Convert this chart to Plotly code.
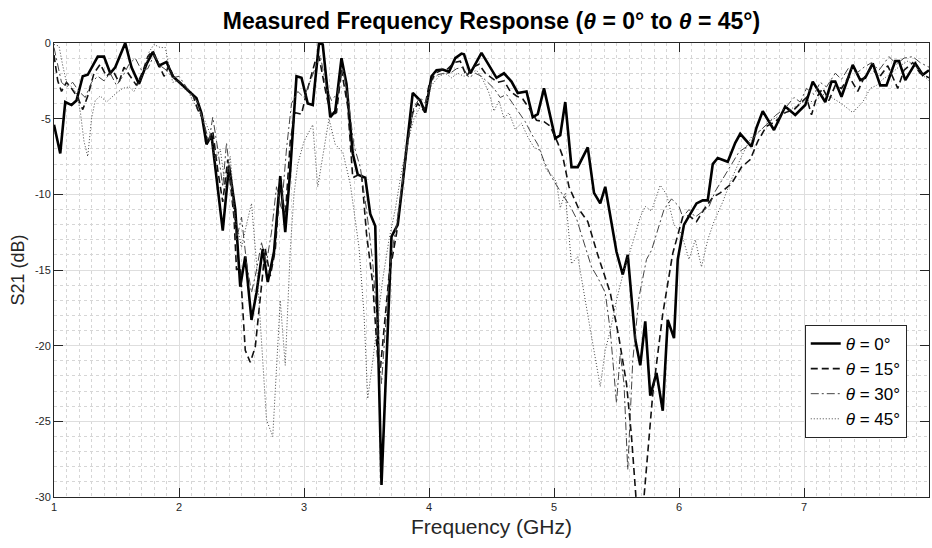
import plotly.graph_objects as go

# (frequency GHz, S21 dB)
theta_0 = [
    (1.00, -5.4), (1.05, -7.3), (1.09, -3.9), (1.14, -4.1), (1.18, -3.8), (1.23, -2.2), (1.27, -2.1),
    (1.32, -1.3), (1.35, -0.9), (1.40, -0.9), (1.45, -2.0), (1.49, -1.6), (1.57, 0.0), (1.62, -1.6),
    (1.68, -2.7), (1.74, -1.4), (1.79, -0.6), (1.84, -1.5), (1.90, -1.25), (1.95, -2.2), (2.03, -2.8),
    (2.14, -3.65), (2.18, -4.65), (2.22, -6.7), (2.26, -6.1), (2.31, -9.6), (2.35, -12.4), (2.40, -8.1),
    (2.45, -11.0), (2.49, -16.1), (2.53, -14.1), (2.58, -18.3), (2.62, -16.5), (2.67, -13.6), (2.71, -15.8),
    (2.76, -13.8), (2.81, -8.8), (2.85, -12.5), (2.89, -8.4), (2.94, -2.2), (2.98, -2.3), (3.03, -4.0),
    (3.07, -4.1), (3.12, 0.0), (3.15, -0.1), (3.21, -4.9), (3.25, -4.5), (3.30, -1.0), (3.34, -2.7),
    (3.39, -7.3), (3.43, -8.7), (3.49, -8.9), (3.53, -11.3), (3.57, -12.1), (3.62, -29.2), (3.70, -12.8),
    (3.75, -12.0), (3.79, -9.2), (3.87, -3.3), (3.93, -3.8), (3.97, -4.6), (4.02, -2.2), (4.06, -1.8),
    (4.11, -1.75), (4.16, -1.9), (4.21, -1.0), (4.26, -0.7), (4.28, -0.75), (4.33, -2.0), (4.42, -0.65),
    (4.49, -1.6), (4.54, -2.3), (4.60, -2.0), (4.66, -2.55), (4.71, -3.3), (4.78, -3.2), (4.83, -4.9),
    (4.87, -4.7), (4.92, -3.0), (5.01, -6.3), (5.05, -6.1), (5.09, -3.9), (5.14, -8.2), (5.19, -8.2),
    (5.27, -6.9), (5.32, -9.9), (5.37, -10.6), (5.41, -9.5), (5.50, -13.8), (5.55, -15.3), (5.59, -14.0),
    (5.65, -19.6), (5.69, -21.3), (5.73, -18.4), (5.77, -23.3), (5.82, -21.8), (5.87, -24.3), (5.91, -18.3),
    (5.96, -19.5), (5.99, -14.3), (6.04, -12.0), (6.09, -11.3), (6.14, -10.6), (6.19, -10.4), (6.23, -10.4),
    (6.27, -8.0), (6.31, -7.6), (6.39, -7.85), (6.45, -6.6), (6.49, -6.0), (6.58, -6.85), (6.62, -5.6),
    (6.67, -4.5), (6.76, -5.75), (6.85, -4.2), (6.93, -4.75), (7.01, -4.1), (7.07, -2.55), (7.17, -3.9),
    (7.22, -2.55), (7.25, -2.55), (7.30, -3.55), (7.39, -1.45), (7.45, -2.45), (7.49, -2.3), (7.55, -1.35),
    (7.61, -2.8), (7.66, -2.8), (7.73, -1.2), (7.76, -1.2), (7.81, -2.45), (7.89, -1.35), (7.95, -2.1),
    (8.00, -1.8),
]

theta_15 = [
    (1.00, -0.8), (1.03, -2.5), (1.06, -3.2), (1.10, -2.6), (1.14, -3.0), (1.19, -3.6), (1.23, -4.4),
    (1.27, -3.5), (1.32, -2.0), (1.37, -1.4), (1.42, -2.2), (1.47, -1.8), (1.52, -2.6), (1.56, -1.6),
    (1.61, -2.2), (1.66, -2.8), (1.71, -1.9), (1.75, -0.9), (1.79, -0.5), (1.84, -1.4), (1.88, -2.2),
    (1.92, -1.5), (1.96, -2.3), (2.01, -2.6), (2.06, -3.0), (2.11, -3.4), (2.15, -4.4), (2.19, -5.0),
    (2.23, -6.6), (2.27, -5.8), (2.31, -8.4), (2.35, -10.5), (2.39, -7.7), (2.44, -11.5), (2.46, -15.0),
    (2.49, -14.8), (2.53, -20.3), (2.57, -21.1), (2.61, -20.1), (2.65, -17.0), (2.69, -13.6), (2.73, -15.4),
    (2.77, -13.7), (2.81, -9.1), (2.85, -11.5), (2.89, -6.5), (2.93, -4.6), (2.98, -4.7), (3.02, -3.3),
    (3.09, -1.2), (3.12, -0.9), (3.18, -3.5), (3.22, -4.8), (3.26, -4.6), (3.30, -1.8), (3.35, -4.2),
    (3.39, -8.9), (3.46, -8.6), (3.50, -12.6), (3.55, -15.9), (3.59, -20.9), (3.61, -21.6), (3.64, -18.9),
    (3.68, -15.4), (3.74, -12.6), (3.79, -9.3), (3.83, -6.5), (3.87, -4.6), (3.91, -4.0), (3.96, -4.5),
    (4.00, -2.8), (4.05, -2.0), (4.10, -1.8), (4.15, -1.7), (4.20, -1.3), (4.25, -1.2), (4.30, -2.2),
    (4.35, -1.6), (4.40, -1.4), (4.45, -2.0), (4.50, -2.3), (4.55, -2.6), (4.60, -2.5), (4.65, -3.2),
    (4.70, -3.5), (4.75, -3.7), (4.80, -4.3), (4.86, -5.1), (4.92, -5.2), (4.97, -5.5), (5.03, -6.6),
    (5.07, -7.5), (5.12, -9.5), (5.20, -11.0), (5.27, -11.8), (5.35, -14.0), (5.45, -16.5), (5.52, -19.5),
    (5.58, -22.5), (5.62, -26.0), (5.66, -30.5), (5.69, -31.5), (5.72, -30.0), (5.79, -23.2), (5.87, -17.9),
    (5.95, -13.9), (6.03, -11.5), (6.08, -11.4), (6.14, -11.8), (6.20, -11.0), (6.27, -10.2), (6.33, -9.9),
    (6.42, -9.3), (6.50, -8.2), (6.57, -7.7), (6.63, -6.5), (6.70, -5.5), (6.77, -5.2), (6.85, -4.6),
    (6.92, -4.4), (6.97, -4.0), (7.02, -3.6), (7.06, -4.75), (7.10, -3.6), (7.15, -3.0), (7.20, -3.8),
    (7.25, -2.8), (7.30, -3.0), (7.36, -2.2), (7.43, -3.2), (7.48, -2.3), (7.54, -1.6), (7.60, -2.3),
    (7.67, -1.5), (7.75, -3.0), (7.80, -1.8), (7.87, -1.3), (7.93, -2.0), (8.00, -2.3),
]

theta_30 = [
    (1.00, -0.3), (1.03, -1.5), (1.06, -2.6), (1.10, -2.9), (1.15, -2.6), (1.20, -3.2), (1.25, -3.6),
    (1.30, -2.6), (1.35, -2.2), (1.40, -2.5), (1.45, -2.0), (1.50, -2.8), (1.55, -2.2), (1.60, -1.4),
    (1.65, -1.0), (1.70, -1.8), (1.75, -1.7), (1.80, -0.8), (1.85, -1.5), (1.90, -1.8), (1.95, -2.3),
    (2.00, -2.2), (2.05, -2.8), (2.10, -3.4), (2.15, -3.9), (2.20, -5.3), (2.24, -6.5), (2.27, -4.9),
    (2.31, -7.0), (2.35, -9.5), (2.38, -6.6), (2.42, -9.5), (2.46, -13.0), (2.50, -11.5), (2.54, -14.5),
    (2.58, -16.5), (2.62, -15.0), (2.66, -13.2), (2.70, -14.5), (2.74, -12.5), (2.78, -9.5), (2.82, -11.0),
    (2.86, -7.0), (2.90, -4.0), (2.95, -3.2), (3.00, -3.6), (3.05, -2.5), (3.10, -1.5), (3.13, -0.8),
    (3.18, -3.0), (3.22, -3.8), (3.27, -3.3), (3.31, -1.7), (3.35, -3.5), (3.40, -6.8), (3.45, -8.2),
    (3.50, -11.0), (3.55, -14.5), (3.59, -19.5), (3.62, -22.5), (3.65, -19.0), (3.69, -14.5), (3.74, -12.0),
    (3.79, -9.0), (3.84, -6.0), (3.88, -4.2), (3.93, -3.6), (3.97, -4.0), (4.02, -2.5), (4.07, -2.1),
    (4.12, -2.0), (4.17, -2.0), (4.22, -1.7), (4.27, -1.6), (4.32, -2.3), (4.37, -2.0), (4.42, -2.2),
    (4.47, -2.6), (4.52, -3.0), (4.57, -3.6), (4.62, -3.4), (4.67, -4.0), (4.72, -4.6), (4.77, -5.2),
    (4.82, -6.0), (4.87, -6.7), (4.92, -7.8), (4.97, -8.7), (5.02, -9.4), (5.07, -10.0), (5.13, -10.8),
    (5.18, -11.6), (5.24, -13.2), (5.30, -14.8), (5.35, -15.5), (5.41, -16.5), (5.45, -19.0), (5.50, -23.8),
    (5.53, -20.5), (5.56, -22.5), (5.59, -28.2), (5.63, -21.0), (5.68, -16.8), (5.74, -14.3), (5.78, -13.7),
    (5.82, -12.6), (5.88, -11.0), (5.94, -10.3), (6.00, -10.8), (6.03, -11.5), (6.08, -11.0), (6.13, -11.5),
    (6.18, -11.2), (6.24, -10.8), (6.29, -9.8), (6.35, -9.0), (6.42, -8.0), (6.48, -7.2), (6.55, -6.8),
    (6.62, -6.0), (6.70, -5.4), (6.77, -4.8), (6.85, -4.3), (6.92, -3.6), (6.97, -3.9), (7.02, -3.0),
    (7.08, -3.4), (7.13, -2.6), (7.18, -2.9), (7.25, -2.0), (7.30, -2.4), (7.36, -1.6), (7.42, -2.0),
    (7.48, -1.6), (7.54, -1.3), (7.60, -1.8), (7.68, -0.9), (7.74, -1.4), (7.80, -1.0), (7.87, -0.9),
    (7.93, -1.3), (8.00, -1.6),
]

theta_45 = [
    (1.00, -0.1), (1.04, -0.2), (1.07, -1.5), (1.10, -2.6), (1.14, -2.9), (1.18, -3.3), (1.21, -4.5),
    (1.24, -6.5), (1.27, -7.5), (1.30, -5.0), (1.33, -3.8), (1.37, -3.5), (1.42, -3.9), (1.46, -3.6),
    (1.50, -3.3), (1.55, -3.0), (1.60, -2.9), (1.64, -3.2), (1.68, -2.6), (1.72, -2.0), (1.76, -0.6),
    (1.80, -0.1), (1.85, -0.3), (1.89, -0.3), (1.92, -1.5), (1.95, -2.6), (1.99, -2.5), (2.04, -3.0),
    (2.08, -3.3), (2.12, -3.9), (2.16, -4.6), (2.20, -5.0), (2.25, -6.0), (2.29, -7.8), (2.33, -7.0),
    (2.37, -9.5), (2.41, -7.5), (2.45, -11.5), (2.50, -13.5), (2.54, -12.0), (2.58, -10.6), (2.62, -14.5),
    (2.66, -19.5), (2.70, -24.9), (2.75, -26.0), (2.78, -21.0), (2.81, -17.0), (2.85, -21.3), (2.89, -13.7),
    (2.92, -10.0), (2.95, -8.0), (3.00, -6.5), (3.07, -5.4), (3.11, -9.5), (3.20, -5.0), (3.25, -6.7),
    (3.31, -7.2), (3.37, -9.3), (3.44, -13.5), (3.48, -17.9), (3.51, -23.5), (3.55, -21.0), (3.59, -18.1),
    (3.63, -15.6), (3.68, -13.0), (3.73, -11.0), (3.78, -8.5), (3.83, -6.5), (3.88, -5.0), (3.93, -4.2),
    (3.97, -4.3), (4.02, -2.8), (4.08, -2.2), (4.13, -2.0), (4.18, -2.3), (4.23, -2.0), (4.28, -2.2),
    (4.33, -2.0), (4.38, -1.8), (4.43, -2.4), (4.48, -3.3), (4.52, -4.5), (4.56, -3.8), (4.60, -5.0),
    (4.64, -4.6), (4.69, -5.7), (4.74, -5.3), (4.79, -6.2), (4.84, -6.9), (4.89, -7.1), (4.94, -8.4),
    (4.99, -8.8), (5.02, -9.2), (5.05, -10.9), (5.09, -9.9), (5.14, -14.6), (5.19, -14.1), (5.25, -17.0),
    (5.31, -20.0), (5.37, -22.7), (5.41, -20.3), (5.45, -19.0), (5.50, -17.0), (5.56, -15.0), (5.63, -13.2),
    (5.69, -11.5), (5.73, -10.8), (5.78, -11.1), (5.85, -9.4), (5.90, -10.0), (5.96, -12.0), (6.02, -12.6),
    (6.08, -14.3), (6.13, -13.0), (6.18, -14.8), (6.23, -13.0), (6.28, -11.8), (6.35, -10.5), (6.42, -9.0),
    (6.50, -7.5), (6.58, -6.2), (6.65, -5.8), (6.72, -5.2), (6.80, -4.8), (6.88, -4.4), (6.95, -4.1),
    (7.02, -3.8), (7.08, -3.9), (7.15, -3.4), (7.22, -3.6), (7.30, -4.0), (7.39, -4.6), (7.47, -3.9),
    (7.53, -3.0), (7.58, -2.8), (7.63, -2.4), (7.70, -2.0), (7.77, -1.5), (7.83, -1.2), (7.90, -1.5),
    (7.96, -2.2), (8.00, -2.5),
]

legend_names = ["<i>θ</i> = 0°", "<i>θ</i> = 15°", "<i>θ</i> = 30°", "<i>θ</i> = 45°"]
x_ticks = [1, 2, 3, 4, 5, 6, 7, 8]
y_ticks = [-30, -25, -20, -15, -10, -5, 0]
y_tick_text = ["-30", "-25", "-20", "-15", "-10", "-5", "0"]

font_family = "Liberation Sans, Arial, Helvetica, sans-serif"
axis_grey = "#262626"

styles = [
    dict(color="black", width=2.6, dash="solid"),
    dict(color="#111111", width=1.6, dash="7px,4px"),
    dict(color="#444444", width=1.0, dash="8px,3px,2px,3px"),
    dict(color="#444444", width=1.0, dash="1px,2px"),
]

fig = go.Figure()
for series, name, line in zip([theta_0, theta_15, theta_30, theta_45], legend_names, styles):
    freq, s21 = zip(*series)
    fig.add_trace(go.Scatter(
        x=list(freq),
        y=list(s21),
        mode="lines",
        name=name,
        line=line,
    ))

axis_common = dict(
    automargin=False,
    showline=True,
    linecolor=axis_grey,
    linewidth=1,
    mirror="allticks",
    ticks="inside",
    ticklen=9,
    tickcolor=axis_grey,
    tickfont=dict(size=11, color=axis_grey, family=font_family),
    showgrid=True,
    gridcolor="#dedede",
    gridwidth=1,
    zeroline=False,
)

fig.update_layout(
    width=932,
    height=548,
    margin=dict(l=54, r=3, t=43, b=51),
    paper_bgcolor="white",
    plot_bgcolor="white",
    font=dict(family=font_family, color=axis_grey),
    title=dict(
        text="<b>Measured Frequency Response (<i>θ</i> = 0° to <i>θ</i> = 45°)</b>",
        font=dict(size=23, color="black", family=font_family),
        x=0.5, xanchor="center", xref="paper",
        y=1 - 21 / 548, yanchor="middle", yref="container",
    ),
    xaxis=dict(
        axis_common,
        range=[1, 8],
        tickvals=x_ticks,
        title=dict(text="Frequency (GHz)", font=dict(size=21, color=axis_grey), standoff=7),
        minor=dict(dtick=0.1, showgrid=True, gridcolor="#d6d6d6", griddash="dot", gridwidth=1, ticks=""),
    ),
    yaxis=dict(
        axis_common,
        range=[-30, 0],
        tickvals=y_ticks,
        ticktext=y_tick_text,
        title=dict(text="S21 (dB)", font=dict(size=18, color=axis_grey), standoff=5),
        minor=dict(dtick=1, showgrid=True, gridcolor="#d6d6d6", griddash="dot", gridwidth=1, ticks=""),
    ),
    legend=dict(
        x=0.858, y=0.379, xanchor="left", yanchor="top",
        bgcolor="white",
        bordercolor=axis_grey,
        borderwidth=1,
        font=dict(size=17, color="black", family=font_family),
        tracegroupgap=0,
    ),
)

# drop the browser's default 8px body margin so the figure fills the window exactly
fig.write_html(
    "out.html",
    config={"displayModeBar": False},
    post_script="document.body.style.margin = '0';",
)
